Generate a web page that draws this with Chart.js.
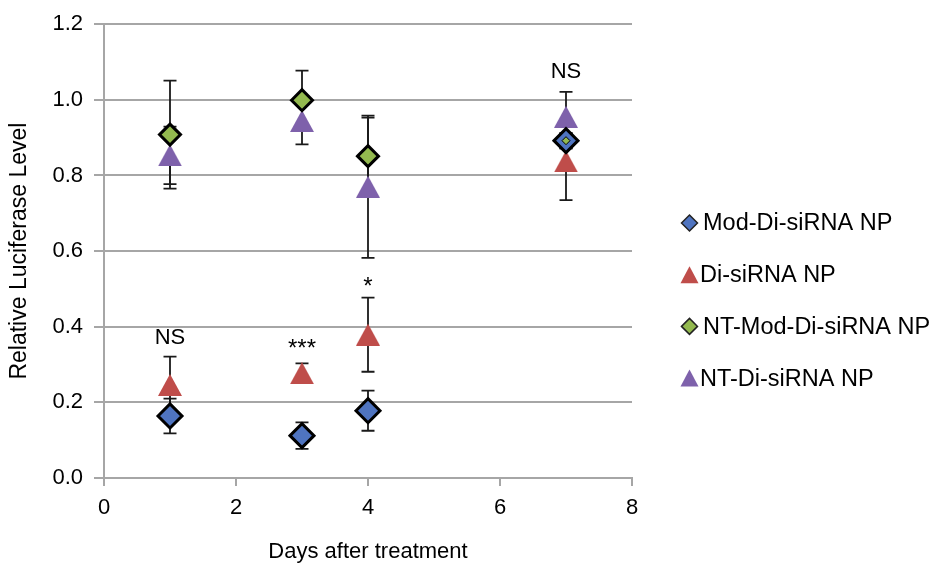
<!DOCTYPE html>
<html>
<head>
<meta charset="utf-8">
<script src="https://cdn.jsdelivr.net/npm/chart.js@4.4.1/dist/chart.umd.min.js"></script>
<style>
  html, body { margin: 0; padding: 0; background: #ffffff; }
  #wrap { width: 938px; height: 566px; position: relative; }
</style>
</head>
<body>
<div id="wrap"><canvas id="c" width="938" height="566"></canvas></div>
<script>
// ---- data ----
const days = [1, 3, 4, 7];

const seriesNames = ['Mod-Di-siRNA NP', 'Di-siRNA NP', 'NT-Mod-Di-siRNA NP', 'NT-Di-siRNA NP'];

const modDiValues   = [0.164, 0.112, 0.178, 0.892];
const modDiErrors   = [0.046, 0.035, 0.053, 0.020];

const diValues      = [0.246, 0.277, 0.379, 0.837];
const diErrors      = [0.075, 0.026, 0.098, 0.102];

const ntModDiValues = [0.908, 0.999, 0.851, 0.892];
const ntModDiErrors = [0.143, 0.078, 0.102, 0.020];

const ntDiValues    = [0.853, 0.944, 0.770, 0.955];
const ntDiErrors    = [0.076, 0.062, 0.188, 0.066];

const xTicks = [0, 2, 4, 6, 8];
const yTicks = [0.0, 0.2, 0.4, 0.6, 0.8, 1.0, 1.2];

const annotationTexts  = ['NS', '***', '*', 'NS'];
const annotationDays   = [1, 3, 4, 7];
const annotationLevels = [0.370, 0.341, 0.505, 1.074];

// ---- styles ----
const FONT = "'Liberation Sans', Arial, Helvetica, sans-serif";
const COLORS = {
  blue: '#4f74c0',
  red: '#bf4d4a',
  green: '#93b94f',
  purple: '#7e61ab'
};

function triangleImage(color, w, h) {
  const c = document.createElement('canvas');
  c.width = w; c.height = h;
  const g = c.getContext('2d');
  g.fillStyle = color;
  g.beginPath();
  g.moveTo(w / 2, 0);
  g.lineTo(w, h);
  g.lineTo(0, h);
  g.closePath();
  g.fill();
  return c;
}

function toPoints(values) {
  return values.map((v, i) => ({ x: days[i], y: v }));
}

const errorSets = [modDiErrors, diErrors, ntModDiErrors, ntDiErrors];

const datasets = [
  {
    label: seriesNames[0],
    data: toPoints(modDiValues),
    pointStyle: 'rectRot',
    pointRadius: 12,
    pointBackgroundColor: COLORS.blue,
    pointBorderColor: '#000000',
    pointBorderWidth: 3,
    order: 1
  },
  {
    label: seriesNames[1],
    data: toPoints(diValues),
    pointStyle: triangleImage(COLORS.red, 24, 22),
    pointRadius: 12,
    pointBackgroundColor: COLORS.red,
    pointBorderWidth: 0,
    order: 2
  },
  {
    label: seriesNames[2],
    data: toPoints(ntModDiValues),
    pointStyle: 'rectRot',
    pointRadius: (ctx) => ctx.dataIndex === 3 ? 4 : 10.5,
    pointBackgroundColor: COLORS.green,
    pointBorderColor: '#000000',
    pointBorderWidth: (ctx) => ctx.dataIndex === 3 ? 1 : 3,
    order: 0
  },
  {
    label: seriesNames[3],
    data: toPoints(ntDiValues),
    pointStyle: triangleImage(COLORS.purple, 24, 22),
    pointRadius: 12,
    pointBackgroundColor: COLORS.purple,
    pointBorderWidth: 0,
    order: 3
  }
];

const errorBarsPlugin = {
  id: 'errorBars',
  beforeDatasetsDraw(chart) {
    const { ctx, scales: { x, y } } = chart;
    ctx.save();
    ctx.strokeStyle = '#1a1a1a';
    ctx.lineWidth = 1.8;
    chart.data.datasets.forEach((ds, di) => {
      const errs = errorSets[di];
      ds.data.forEach((p, i) => {
        const px = x.getPixelForValue(p.x);
        const top = y.getPixelForValue(p.y + errs[i]);
        const bot = y.getPixelForValue(p.y - errs[i]);
        ctx.beginPath();
        ctx.moveTo(px, top); ctx.lineTo(px, bot);
        ctx.moveTo(px - 6.5, top); ctx.lineTo(px + 6.5, top);
        ctx.moveTo(px - 6.5, bot); ctx.lineTo(px + 6.5, bot);
        ctx.stroke();
      });
    });
    ctx.restore();
  }
};

const annotationsPlugin = {
  id: 'sigLabels',
  afterDatasetsDraw(chart) {
    const { ctx, scales: { x, y } } = chart;
    ctx.save();
    ctx.fillStyle = '#000000';
    ctx.textAlign = 'center';
    ctx.textBaseline = 'middle';
    annotationTexts.forEach((t, i) => {
      ctx.font = (t.startsWith('*') ? '24px ' : '22px ') + FONT;
      ctx.fillText(t, x.getPixelForValue(annotationDays[i]), y.getPixelForValue(annotationLevels[i]));
    });
    ctx.restore();
  }
};

const legendPlugin = {
  id: 'sideLegend',
  afterDraw(chart) {
    const { ctx } = chart;
    const x0 = 689.5, yStart = 223, step = 51.7;
    ctx.save();
    ctx.font = '23.5px ' + FONT;
    ctx.textBaseline = 'middle';
    ctx.textAlign = 'left';
    const fills = [COLORS.blue, COLORS.red, COLORS.green, COLORS.purple];
    seriesNames.forEach((name, i) => {
      const cy = yStart + i * step;
      ctx.fillStyle = fills[i];
      ctx.beginPath();
      if (i === 0 || i === 2) {
        const r = 8;
        ctx.moveTo(x0 - r, cy); ctx.lineTo(x0, cy - r); ctx.lineTo(x0 + r, cy); ctx.lineTo(x0, cy + r);
        ctx.closePath();
        ctx.fill();
        ctx.lineWidth = 1.5;
        ctx.strokeStyle = '#222222';
        ctx.stroke();
        ctx.fillStyle = '#000000';
        ctx.fillText(name, 703, cy + 1);
      } else {
        const w = 18, h = 17;
        ctx.moveTo(x0, cy - h / 2); ctx.lineTo(x0 + w / 2, cy + h / 2); ctx.lineTo(x0 - w / 2, cy + h / 2);
        ctx.closePath();
        ctx.fill();
        ctx.fillStyle = '#000000';
        ctx.fillText(name, 700, cy + 1);
      }
    });
    ctx.restore();
  }
};

new Chart(document.getElementById('c'), {
  type: 'scatter',
  data: { datasets },
  plugins: [errorBarsPlugin, annotationsPlugin, legendPlugin],
  options: {
    responsive: false,
    animation: false,
    devicePixelRatio: 1,
    layout: { padding: { left: 0, right: 306, top: 24, bottom: 0 } },
    plugins: {
      legend: { display: false },
      tooltip: { enabled: false }
    },
    scales: {
      x: {
        type: 'linear',
        min: 0, max: 8,
        afterFit: (s) => { s.height = 88; },
        afterBuildTicks: (s) => { s.ticks = xTicks.map(v => ({ value: v })); },
        ticks: { color: '#000000', font: { family: FONT, size: 22 }, padding: 9, maxRotation: 0 },
        grid: { drawOnChartArea: false, drawTicks: true, tickLength: 8, color: '#a6a6a6', lineWidth: 2 },
        border: { display: true, color: '#a6a6a6', width: 2 },
        title: { display: true, text: 'Days after treatment', color: '#000000', font: { family: FONT, size: 22 }, padding: { top: 0, bottom: 1 } }
      },
      y: {
        type: 'linear',
        min: 0, max: 1.2,
        afterFit: (s) => { s.width = 104; },
        afterBuildTicks: (s) => { s.ticks = yTicks.map(v => ({ value: v })); },
        ticks: { color: '#000000', font: { family: FONT, size: 22 }, padding: 11, callback: (v) => Number(v).toFixed(1) },
        grid: { drawOnChartArea: true, drawTicks: true, tickLength: 10, color: '#a6a6a6', lineWidth: 2 },
        border: { display: true, color: '#a6a6a6', width: 2 },
        title: { display: true, text: 'Relative Luciferase Level', color: '#000000', font: { family: FONT, size: 23 }, padding: { top: 6, bottom: 0 } }
      }
    }
  }
});
</script>
</body>
</html>
